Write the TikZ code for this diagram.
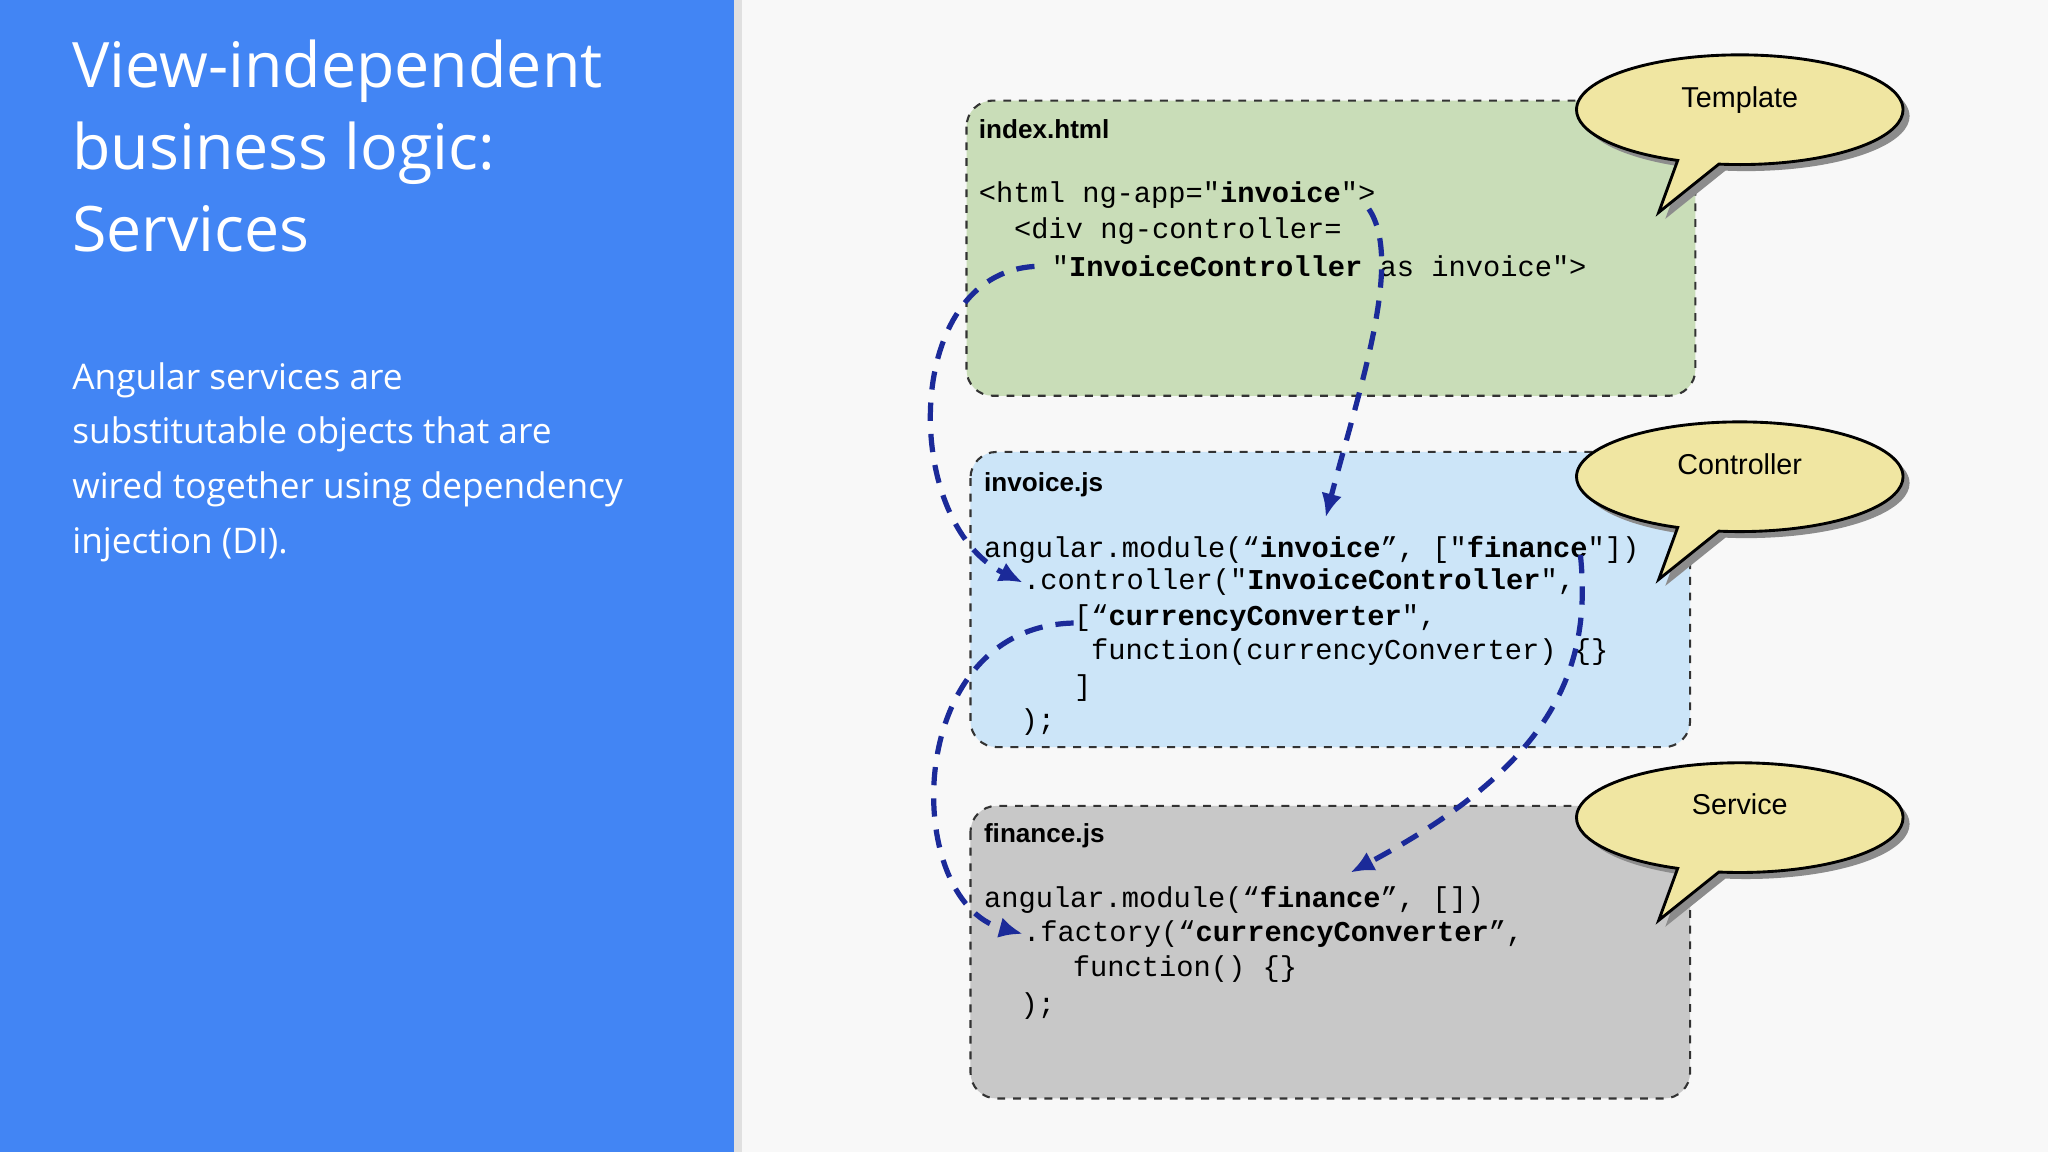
\documentclass[tikz,border=0pt]{standalone}
\usepackage{fontspec}
\setmainfont{Open Sans}
\newfontfamily\labfont{Liberation Sans}
\newfontfamily\codefont{Liberation Mono}
\usetikzlibrary{arrows.meta,shapes.callouts}
\definecolor{gblue}{HTML}{4285F4}
\definecolor{pagebg}{HTML}{F8F8F8}
\definecolor{tplfill}{HTML}{C9DDB8}
\definecolor{ctlfill}{HTML}{CCE5F8}
\definecolor{srvfill}{HTML}{C8C8C8}
\definecolor{bubfill}{HTML}{F0E6A2}
\definecolor{wire}{HTML}{1B2A99}
\tikzset{
  box/.style={draw=black!80, dashed, line width=0.8pt, rounded corners=10pt},
  filelab/.style={anchor=west, font=\labfont\bfseries\fontsize{10}{12}\selectfont, inner sep=0pt},
  code/.style={anchor=west, font=\codefont\fontsize{11}{13}\selectfont, inner sep=0pt},
  bubble/.style={ellipse callout, draw=black, line width=1.1pt, fill=bubfill,
    minimum width=125pt, minimum height=42pt, font=\labfont\fontsize{11}{13}\selectfont,
    text depth=10pt, callout relative pointer={(-15pt,-19pt)}},
  wired/.style={draw=wire, line width=2pt, dash pattern=on 7pt off 5pt, -{Latex[length=9pt,width=8pt]}},
  slide/.style={anchor=north west, align=left, inner sep=0pt, text=white}
}
\begin{document}
\begin{tikzpicture}[x=0.5pt,y=-0.5pt]
\useasboundingbox (0,0) rectangle (1568,882);
\fill[pagebg] (0,0) rectangle (1568,882);
\fill[black!12] (562,0) rectangle (568,882);
\fill[gblue] (0,0) rectangle (562,882);
% left text
\node[slide, font=\fontsize{24}{31.5}\selectfont] (title) at (55,30)
  {View-independent\\business logic:\\Services};
\node[slide, font=\fontsize{13.5}{21}\selectfont] (body) at (55,277)
  {Angular services are\\substitutable objects that are\\wired together using dependency\\injection (DI).};
% boxes
\path[box, fill=tplfill] (740,77) rectangle (1298,303);
\path[box, fill=ctlfill] (743,346) rectangle (1294,572);
\path[box, fill=srvfill] (743,617) rectangle (1294,841);
% bubbles
\foreach \n/\y/\t in {tpl/84/Template, ctl/365/Controller, srv/626/Service}{
  \node[bubble, draw=none, fill=black!45] at (1337,\y+5) {\phantom{\t}};
  \node[bubble] (\n) at (1332,\y) {\t};
}
% template
\node[filelab] (ltpl) at (749,99) {index.html};
\node[code] (t1) at (749,149) {<html ng-app="\textbf{invoice}">};
\node[code] (t2) at (776,177) {<div ng-controller=};
\node[code] (t3) at (805,204) {"\textbf{InvoiceController} as invoice">};
% controller
\node[filelab] (lctl) at (753,371) {invoice.js};
\node[code] (c1) at (753,421) {angular.module(“\textbf{invoice}”, ["\textbf{finance}"])};
\node[code] (c2) at (783,446) {.controller("\textbf{InvoiceController}",};
\node[code] (c3) at (822,473) {[“\textbf{currencyConverter}",};
\node[code] (c4) at (835,499) {function(currencyConverter) \{\}};
\node[code] (c5) at (822,527) {]};
\node[code] (c6) at (781,553) {);};
% service
\node[filelab] (lsrv) at (753,640) {finance.js};
\node[code] (s1) at (753,689) {angular.module(“\textbf{finance}”, [])};
\node[code] (s2) at (783,715) {.factory(“\textbf{currencyConverter}”,};
\node[code] (s3) at (821,742) {function() \{\}};
\node[code] (s4) at (781,770) {);};
% wiring
\coordinate (a1) at (792,204);
\coordinate (b1) at (1048,160);
\coordinate (b2) at (1015,396);
\coordinate (d1) at (822,477);
\coordinate (e1) at (1210,425);
\coordinate (e2) at (1034,668);
\draw[wired] (a1) .. controls (690,210) and (690,400) .. (c2.west);
\draw[wired] (b1) .. controls (1075,200) and (1040,300) .. (b2);
\draw[wired] (d1) .. controls (690,480) and (690,690) .. (s2.west);
\draw[wired] (e1) .. controls (1220,520) and (1180,590) .. (e2);
\end{tikzpicture}
\end{document}
